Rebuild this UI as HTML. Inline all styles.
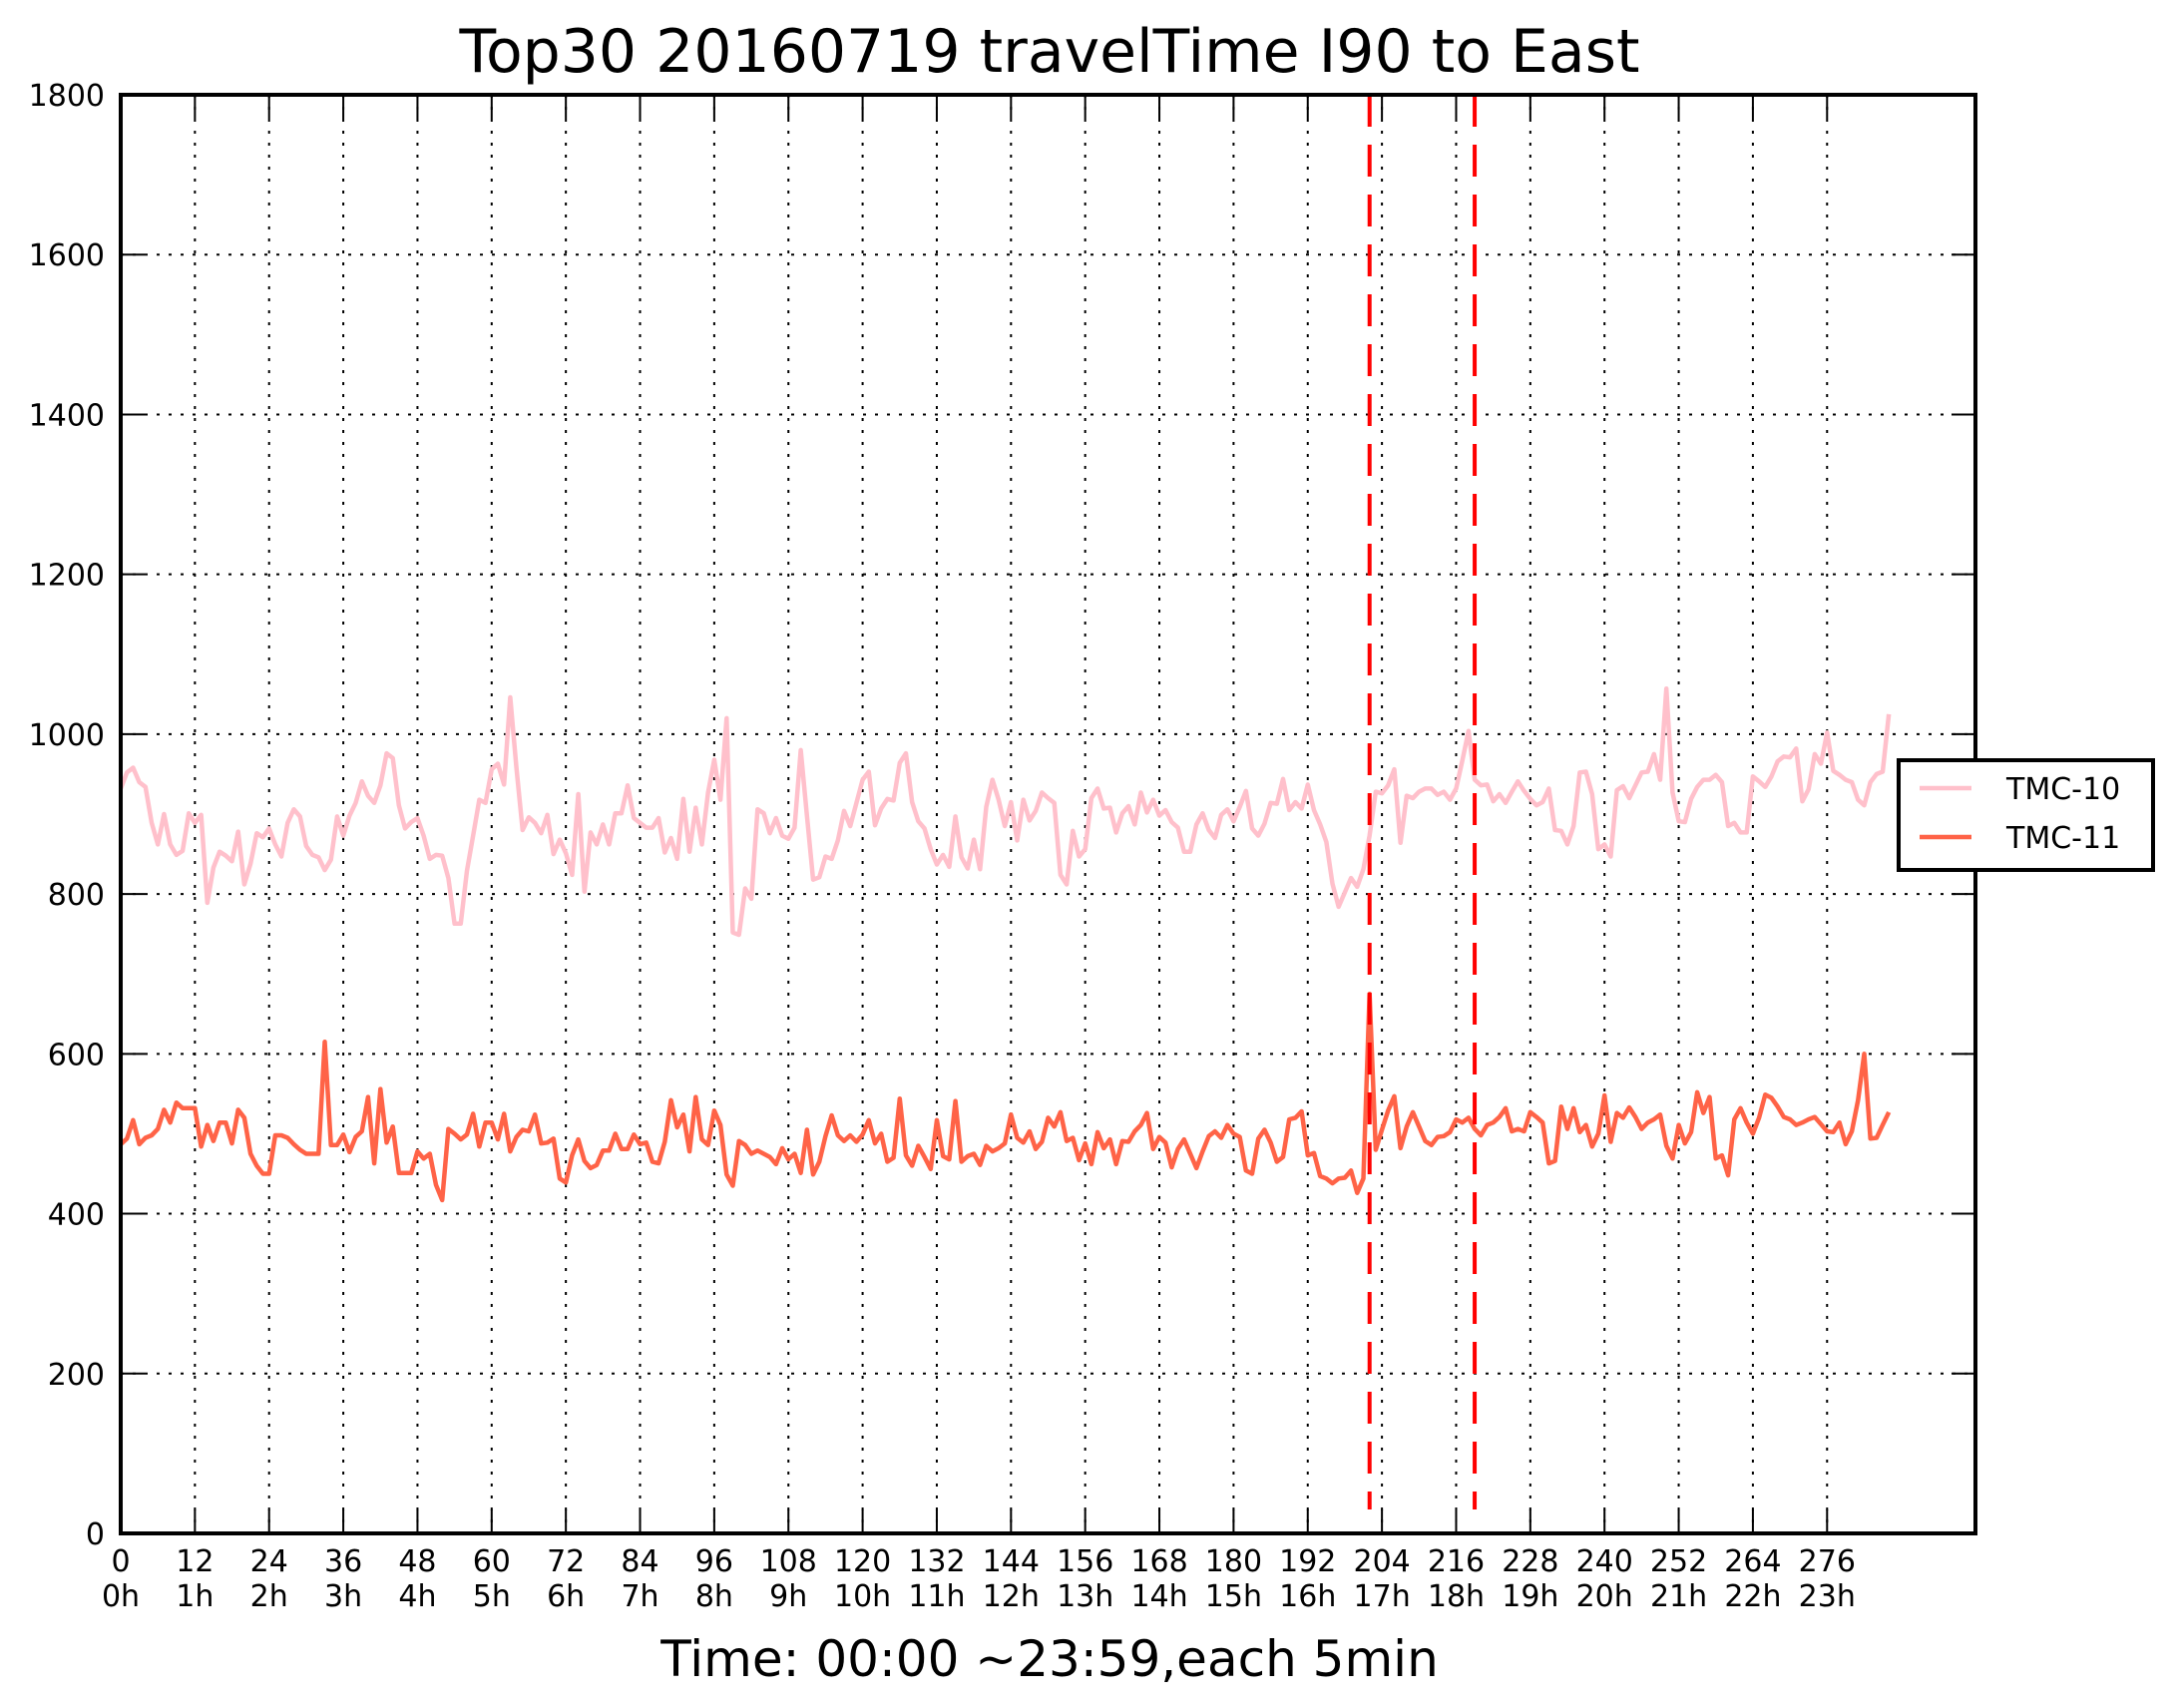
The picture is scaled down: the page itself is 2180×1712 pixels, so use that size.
<!DOCTYPE html>
<html><head><meta charset="utf-8">
<style>
html,body{margin:0;padding:0;background:#fff;}
svg{display:block;font-family:"DejaVu Sans","Liberation Sans",sans-serif;}
</style></head>
<body>
<svg id="chart" width="2180" height="1712" viewBox="0 0 2180 1712" xmlns="http://www.w3.org/2000/svg">
<rect x="0" y="0" width="2180" height="1712" fill="#fff"/>
<text x="1052" y="72" font-size="60" text-anchor="middle" fill="#000">Top30 20160719 travelTime I90 to East</text>
<g id="grid"></g>
<g id="marks"></g>
<g id="axes"></g>
<text x="1052" y="1680" font-size="50" text-anchor="middle" fill="#000">Time: 00:00 ~23:59,each 5min</text>
<g>
<rect x="1903" y="762" width="255" height="110" fill="#fff" stroke="#000" stroke-width="4"/>
<line x1="1924" y1="790" x2="1976" y2="790" stroke="#ffc0cb" stroke-width="4.5"/>
<text x="2011" y="801" font-size="30" fill="#000">TMC-10</text>
<line x1="1924" y1="839" x2="1976" y2="839" stroke="#ff6347" stroke-width="4.5"/>
<text x="2011" y="850" font-size="30" fill="#000">TMC-11</text>
</g>
</svg>
<script>
const tmc10 = [932,952,958,940,934,889,862,900,862,849,854,901,889,899,789,833,853,848,841,878,812,838,876,871,882,862,847,889,906,897,860,849,846,830,843,897,873,898,914,941,923,914,936,976,970,911,882,890,895,873,844,849,848,820,763,763,829,873,918,914,956,963,937,1046,958,880,896,889,876,899,850,868,851,824,925,803,877,862,887,
862,901,901,936,895,889,883,883,895,852,870,844,919,853,908,862,927,968,918,1020,752,749,807,794,906,901,876,895,873,869,883,980,898,818,821,847,844,867,904,885,914,943,953,886,907,919,917,964,976,915,891,882,856,837,849,834,897,846,832,868,831,909,943,918,885,915,867,918,892,904,927,920,914,824,812,879,847,
856,920,932,907,908,877,901,910,887,927,902,918,898,905,890,883,853,853,887,901,880,870,899,906,891,909,929,882,873,888,914,913,944,905,915,907,937,905,887,865,813,784,802,820,809,831,873,928,926,936,956,864,923,920,928,932,932,924,928,918,932,967,1004,943,936,937,916,925,914,928,941,929,919,911,915,932,880,879,
862,885,952,953,925,856,862,847,930,935,920,936,952,953,975,943,1057,927,891,890,919,934,943,943,949,940,885,889,877,877,947,941,934,947,966,972,971,982,916,931,975,963,1002,954,949,943,940,918,911,940,950,953,1025];
const tmc11 = [487,494,517,487,495,498,506,530,514,539,532,532,532,484,511,491,514,514,488,530,520,475,460,450,450,498,498,495,487,480,475,475,475,615,486,486,499,477,496,503,546,463,556,489,509,451,451,451,478,469,475,436,417,506,500,493,499,525,484,514,514,493,525,478,496,505,503,524,488,489,494,444,439,473,493,466,457,461,479,
479,500,481,481,499,487,489,465,463,490,542,508,524,478,546,493,486,529,511,449,435,491,486,475,479,475,471,462,482,468,475,451,505,449,465,497,523,498,491,498,490,499,517,488,500,465,470,544,473,460,485,471,456,517,472,468,541,465,472,475,461,485,478,482,488,524,495,489,503,481,490,520,509,527,491,495,467,
488,462,502,482,493,462,491,490,503,511,526,481,496,489,458,481,493,475,457,478,497,503,495,511,500,496,454,450,494,505,489,465,471,518,520,528,473,476,447,444,438,444,445,454,426,444,675,480,505,529,547,482,509,527,509,491,486,496,497,502,518,514,520,506,498,511,514,521,532,503,506,503,527,521,514,463,466,534,
506,532,502,511,484,500,548,490,526,520,533,521,506,514,518,524,485,469,511,488,502,552,526,546,469,473,448,518,532,514,500,520,549,545,534,521,518,511,514,518,521,512,503,502,514,487,503,542,600,494,495,511,527];
const yTicks = [0,200,400,600,800,1000,1200,1400,1600,1800];
const xTicks = [0,12,24,36,48,60,72,84,96,108,120,132,144,156,168,180,192,204,216,228,240,252,264,276];
const xTickHours = ["0h","1h","2h","3h","4h","5h","6h","7h","8h","9h","10h","11h","12h","13h","14h","15h","16h","17h","18h","19h","20h","21h","22h","23h"];
const markerLines = [202,219];
const xDomain = [0,300];
const yDomain = [0,1800];

const L=121,R=1980,T=95,B=1537;
const NS="http://www.w3.org/2000/svg";
function sx(v){return L+(v-xDomain[0])/(xDomain[1]-xDomain[0])*(R-L);}
function sy(v){return B-(v-yDomain[0])/(yDomain[1]-yDomain[0])*(B-T);}
function mk(tag,attrs,parent){const e=document.createElementNS(NS,tag);for(const k in attrs)e.setAttribute(k,attrs[k]);parent.appendChild(e);return e;}
const grid=document.getElementById('grid'),marks=document.getElementById('marks'),axes=document.getElementById('axes');

yTicks.forEach(v=>{
  const g=mk('line',{x1:L,x2:R,y1:sy(v),y2:sy(v),stroke:'#000','stroke-width':2,'stroke-dasharray':'3,9'},grid);
  
  
  const t1=mk('line',{x1:L,x2:L+24,y1:sy(v),y2:sy(v),stroke:'#000','stroke-width':2},axes);
  
  
  const t2=mk('line',{x1:R-24,x2:R,y1:sy(v),y2:sy(v),stroke:'#000','stroke-width':2},axes);
  
  
  const lb=mk('text',{x:L-16,y:sy(v)+11,'font-size':30,'text-anchor':'end',fill:'#000'},axes);
  lb.textContent=v;
  
  
});
xTicks.forEach((v,i)=>{
  const g=mk('line',{x1:sx(v),x2:sx(v),y1:T,y2:B,stroke:'#000','stroke-width':2,'stroke-dasharray':'3,9'},grid);
  
  
  const t1=mk('line',{x1:sx(v),x2:sx(v),y1:B-24,y2:B,stroke:'#000','stroke-width':2},axes);
  
  
  const t2=mk('line',{x1:sx(v),x2:sx(v),y1:T,y2:T+24,stroke:'#000','stroke-width':2},axes);
  
  
  const lb=mk('text',{x:sx(v),y:B+38,'font-size':30,'text-anchor':'middle',fill:'#000'},axes);
  lb.textContent=v;
  
  
  const lh=mk('text',{x:sx(v),y:B+73,'font-size':30,'text-anchor':'middle',fill:'#000'},axes);
  lh.textContent=xTickHours[i];
  
  
});
function series(arr,color,name){
  const d=arr.map((v,i)=>(i?'L':'M')+sx(i).toFixed(1)+','+sy(v).toFixed(1)).join(' ');
  const p=mk('path',{d:d,fill:'none',stroke:color,'stroke-width':4.5,'stroke-linejoin':'round'},marks);
  
  
}
series(tmc10,'#ffc0cb','line-tmc-10');
series(tmc11,'#ff6347','line-tmc-11');
markerLines.forEach(v=>{
  const l=mk('line',{x1:sx(v),x2:sx(v),y1:T,y2:B-24,stroke:'#ff0000','stroke-width':4,'stroke-dasharray':'32,18'},marks);
  
  
});
const frame=mk('rect',{x:L,y:T,width:R-L,height:B-T,fill:'none',stroke:'#000','stroke-width':4},axes);


</script>
</body></html>
